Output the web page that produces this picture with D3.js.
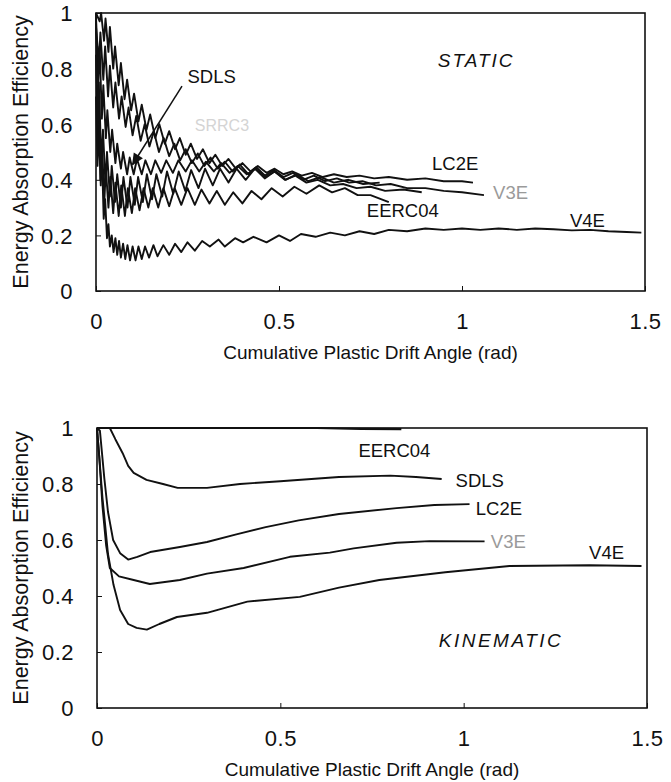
<!DOCTYPE html>
<html>
<head>
<meta charset="utf-8">
<script src="https://cdn.jsdelivr.net/npm/d3@7"></script>
<style>
  body { margin: 0; background: #fff; }
  svg text { font-family: "Liberation Sans", Arial, Helvetica, sans-serif; fill: #111; }
</style>
</head>
<body>
<script>
// axis ticks
var xTicks = [0, 0.5, 1, 1.5];
var yTicks = [0, 0.2, 0.4, 0.6, 0.8, 1];

// STATIC panel, [cumulative plastic drift angle, efficiency]
var staticLC2E = [[0.000,1.00],[0.010,0.97],[0.014,1.00],[0.022,0.90],[0.026,0.98],[0.034,0.86],[0.038,0.95],[0.047,0.80],[0.052,0.88],[0.062,0.74],[0.068,0.82],[0.078,0.69],[0.085,0.76],[0.096,0.65],[0.104,0.71],[0.116,0.61],[0.125,0.67],[0.138,0.58],[0.148,0.635],[0.162,0.55],[0.173,0.60],[0.188,0.53],[0.200,0.575],[0.216,0.51],[0.229,0.55],[0.245,0.49],[0.259,0.53],[0.276,0.475],[0.292,0.51],[0.310,0.46],[0.326,0.49],[0.345,0.45],[0.362,0.475],[0.382,0.44],[0.400,0.46],[0.422,0.43],[0.442,0.45],[0.466,0.425],[0.488,0.44],[0.512,0.42],[0.536,0.43],[0.562,0.415],[0.590,0.425],[0.620,0.41],[0.650,0.42],[0.685,0.41],[0.720,0.415],[0.760,0.405],[0.800,0.41],[0.850,0.40],[0.900,0.405],[0.950,0.395],[1.000,0.395],[1.030,0.39]];
var staticV3E = [[0.000,0.95],[0.008,0.82],[0.012,0.93],[0.020,0.76],[0.025,0.88],[0.033,0.70],[0.038,0.81],[0.047,0.66],[0.053,0.75],[0.063,0.62],[0.070,0.70],[0.081,0.59],[0.089,0.66],[0.100,0.56],[0.110,0.63],[0.122,0.54],[0.133,0.60],[0.146,0.52],[0.158,0.575],[0.172,0.50],[0.185,0.55],[0.200,0.485],[0.214,0.53],[0.230,0.47],[0.245,0.51],[0.262,0.46],[0.278,0.495],[0.296,0.45],[0.313,0.48],[0.333,0.44],[0.352,0.465],[0.373,0.43],[0.393,0.455],[0.416,0.42],[0.438,0.445],[0.462,0.415],[0.486,0.435],[0.512,0.41],[0.538,0.425],[0.566,0.40],[0.595,0.415],[0.626,0.395],[0.658,0.405],[0.692,0.39],[0.728,0.395],[0.765,0.38],[0.805,0.385],[0.850,0.37],[0.900,0.37],[0.950,0.36],[1.000,0.355],[1.060,0.345]];
var staticSDLS = [[0.000,0.98],[0.006,0.75],[0.010,0.88],[0.016,0.62],[0.020,0.74],[0.027,0.55],[0.031,0.65],[0.039,0.50],[0.044,0.58],[0.053,0.46],[0.058,0.53],[0.068,0.44],[0.074,0.50],[0.085,0.42],[0.092,0.48],[0.103,0.42],[0.112,0.475],[0.125,0.42],[0.135,0.47],[0.150,0.42],[0.162,0.47],[0.178,0.425],[0.192,0.47],[0.210,0.425],[0.225,0.47],[0.245,0.43],[0.262,0.47],[0.282,0.43],[0.300,0.465],[0.322,0.43],[0.342,0.46],[0.365,0.425],[0.387,0.45],[0.412,0.42],[0.436,0.44],[0.462,0.41],[0.488,0.43],[0.516,0.40],[0.545,0.415],[0.575,0.39],[0.606,0.40],[0.640,0.38],[0.675,0.385],[0.712,0.37],[0.750,0.375],[0.790,0.36],[0.840,0.365],[0.890,0.355]];
var staticMid = [[0.000,0.85],[0.005,0.55],[0.009,0.70],[0.015,0.45],[0.019,0.58],[0.026,0.38],[0.030,0.50],[0.038,0.34],[0.043,0.45],[0.052,0.32],[0.058,0.42],[0.068,0.30],[0.075,0.41],[0.086,0.30],[0.094,0.41],[0.106,0.31],[0.115,0.41],[0.128,0.32],[0.139,0.42],[0.153,0.33],[0.165,0.42],[0.181,0.34],[0.194,0.43],[0.211,0.35],[0.226,0.43],[0.244,0.36],[0.260,0.435],[0.280,0.37],[0.298,0.44],[0.319,0.38],[0.339,0.44],[0.362,0.39],[0.384,0.44],[0.409,0.40],[0.434,0.44],[0.461,0.405],[0.488,0.43],[0.518,0.40],[0.548,0.42],[0.580,0.395],[0.614,0.41],[0.650,0.39],[0.690,0.40],[0.730,0.385],[0.775,0.39]];
var staticEERC04 = [[0.000,0.70],[0.004,0.45],[0.008,0.58],[0.013,0.38],[0.017,0.50],[0.023,0.33],[0.027,0.44],[0.034,0.30],[0.039,0.41],[0.047,0.28],[0.053,0.39],[0.062,0.27],[0.069,0.38],[0.079,0.27],[0.087,0.37],[0.098,0.28],[0.107,0.37],[0.119,0.29],[0.130,0.37],[0.143,0.30],[0.155,0.37],[0.170,0.30],[0.184,0.37],[0.200,0.305],[0.215,0.37],[0.233,0.31],[0.250,0.37],[0.270,0.31],[0.288,0.365],[0.310,0.315],[0.330,0.36],[0.352,0.31],[0.375,0.355],[0.400,0.315],[0.425,0.36],[0.452,0.33],[0.480,0.37],[0.510,0.34],[0.542,0.375],[0.575,0.35],[0.610,0.38],[0.645,0.355],[0.680,0.37],[0.715,0.345],[0.750,0.345],[0.800,0.32]];
var staticV4E = [[0.000,1.00],[0.004,0.60],[0.008,0.75],[0.012,0.40],[0.016,0.50],[0.021,0.26],[0.025,0.33],[0.030,0.19],[0.034,0.24],[0.038,0.16],[0.043,0.20],[0.048,0.14],[0.053,0.19],[0.058,0.13],[0.063,0.18],[0.068,0.12],[0.074,0.17],[0.080,0.115],[0.086,0.165],[0.093,0.11],[0.100,0.16],[0.108,0.11],[0.116,0.16],[0.125,0.115],[0.134,0.16],[0.145,0.12],[0.157,0.165],[0.168,0.125],[0.184,0.165],[0.200,0.13],[0.216,0.17],[0.233,0.14],[0.250,0.175],[0.270,0.145],[0.290,0.18],[0.311,0.16],[0.335,0.185],[0.352,0.16],[0.380,0.19],[0.402,0.175],[0.430,0.195],[0.466,0.175],[0.500,0.20],[0.530,0.18],[0.560,0.205],[0.600,0.195],[0.640,0.21],[0.680,0.20],[0.720,0.215],[0.760,0.205],[0.800,0.22],[0.850,0.215],[0.900,0.225],[0.950,0.22],[1.000,0.225],[1.050,0.22],[1.100,0.225],[1.150,0.22],[1.200,0.225],[1.250,0.222],[1.300,0.218],[1.350,0.22],[1.400,0.215],[1.450,0.212],[1.490,0.21]];

// KINEMATIC panel
var kinEERC04 = [[0.000,1.00],[0.200,1.00],[0.400,1.00],[0.600,1.00],[0.720,0.997],[0.830,0.996]];
var kinSDLS = [[0.000,1.00],[0.035,1.00],[0.050,0.96],[0.070,0.91],[0.085,0.865],[0.100,0.84],[0.135,0.815],[0.180,0.80],[0.220,0.786],[0.300,0.786],[0.390,0.80],[0.500,0.81],[0.660,0.825],[0.800,0.83],[0.870,0.825],[0.940,0.818]];
var kinLC2E = [[0.000,1.00],[0.008,0.99],[0.020,0.82],[0.030,0.70],[0.044,0.60],[0.063,0.553],[0.085,0.53],[0.110,0.54],[0.145,0.557],[0.226,0.575],[0.300,0.593],[0.380,0.62],[0.460,0.646],[0.550,0.67],[0.660,0.693],[0.817,0.714],[0.920,0.725],[1.016,0.728]];
var kinV3E = [[0.000,1.00],[0.006,0.90],[0.015,0.72],[0.025,0.58],[0.035,0.50],[0.060,0.47],[0.100,0.457],[0.144,0.443],[0.226,0.457],[0.300,0.48],[0.400,0.50],[0.526,0.54],[0.635,0.555],[0.700,0.57],[0.817,0.59],[0.907,0.596],[1.057,0.595]];
var kinV4E = [[0.000,1.00],[0.006,0.90],[0.015,0.75],[0.030,0.55],[0.045,0.44],[0.063,0.35],[0.085,0.30],[0.108,0.286],[0.136,0.28],[0.170,0.30],[0.218,0.325],[0.300,0.34],[0.410,0.38],[0.553,0.397],[0.660,0.43],[0.770,0.457],[0.950,0.485],[1.125,0.507],[1.343,0.51],[1.485,0.507]];

var W = 671, H = 782;
var svg = d3.select("body").append("svg")
    .attr("width", W)
    .attr("height", H);

svg.append("defs").append("marker")
    .attr("id", "arrow")
    .attr("viewBox", "0 0 10 10")
    .attr("refX", 9).attr("refY", 5)
    .attr("markerWidth", 15).attr("markerHeight", 12)
    .attr("markerUnits", "userSpaceOnUse")
    .attr("orient", "auto")
    .append("path")
    .attr("d", "M0,0.5 L10,5 L0,9.5 Z")
    .attr("fill", "#111");

function panel(left, right, top, bottom, curves) {
    var x = d3.scaleLinear().domain([0, 1.5]).range([left, right]);
    var y = d3.scaleLinear().domain([0, 1]).range([bottom, top]);
    var g = svg.append("g");

    // frame
    g.append("rect")
        .attr("x", x(0)).attr("y", y(1))
        .attr("width", x(1.5) - x(0)).attr("height", y(0) - y(1))
        .attr("fill", "none").attr("stroke", "#111").attr("stroke-width", 1.6);

    var fmt = d3.format("~g");
    var xa = g.append("g")
        .attr("transform", "translate(0," + y(0) + ")")
        .call(d3.axisBottom(x).tickValues(xTicks).tickFormat(fmt)
            .tickSizeInner(-5).tickSizeOuter(0).tickPadding(22));
    var ya = g.append("g")
        .attr("transform", "translate(" + x(0) + ",0)")
        .call(d3.axisLeft(y).tickValues(yTicks).tickFormat(fmt)
            .tickSizeInner(-5).tickSizeOuter(0).tickPadding(23));
    [xa, ya].forEach(function (a) {
        a.select(".domain").remove();
        a.attr("font-size", 22).attr("font-family", null);
        a.selectAll("line").attr("stroke", "#111");
        a.selectAll("text").attr("fill", "#111").attr("letter-spacing", 0.5);
    });
    ya.selectAll("text").attr("dy", "0.36em");

    var line = d3.line().x(function (d) { return x(d[0]); }).y(function (d) { return y(d[1]); });
    g.selectAll("path.curve")
        .data(curves)
        .enter()
        .append("path")
        .attr("class", "curve")
        .attr("d", line)
        .attr("fill", "none")
        .attr("stroke", "#111")
        .attr("stroke-width", 1.9)
        .attr("stroke-linejoin", "round");

    // axis titles
    g.append("text")
        .attr("x", (x(0) + x(1.5)) / 2)
        .attr("y", y(0) + 68)
        .attr("text-anchor", "middle")
        .attr("font-size", 19)
        .text("Cumulative Plastic Drift Angle (rad)");
    g.append("text")
        .attr("transform", "translate(28," + (y(0) + y(1)) / 2 + ") rotate(-90)")
        .attr("text-anchor", "middle")
        .attr("font-size", 21.5)
        .text("Energy Absorption Efficiency");

    return { g: g, x: x, y: y };
}

function label(p, txt, vx, vy, opts) {
    opts = opts || {};
    return p.g.append("text")
        .attr("x", p.x(vx))
        .attr("y", p.y(vy))
        .attr("dy", "0.35em")
        .attr("font-size", opts.size || 18.5)
        .attr("font-style", opts.italic ? "italic" : null)
        .attr("letter-spacing", opts.spacing || null)
        .style("fill", opts.color || "#111")
        .text(txt);
}

// STATIC
var p1 = panel(96, 645, 13, 291, [staticLC2E, staticV3E, staticSDLS, staticMid, staticEERC04, staticV4E]);
label(p1, "STATIC", 0.934, 0.83, { italic: true, size: 19, spacing: 2 });
label(p1, "SDLS", 0.25, 0.773);
label(p1, "SRRC3", 0.27, 0.597, { color: "#d4d4d4", size: 16 });
label(p1, "LC2E", 0.918, 0.46);
label(p1, "V3E", 1.085, 0.353, { color: "#9a9a9a" });
label(p1, "EERC04", 0.74, 0.291);
label(p1, "V4E", 1.295, 0.252);
p1.g.append("line")
    .attr("x1", p1.x(0.235)).attr("y1", p1.y(0.737))
    .attr("x2", p1.x(0.100)).attr("y2", p1.y(0.455))
    .attr("stroke", "#111").attr("stroke-width", 1.5)
    .attr("marker-end", "url(#arrow)");

// KINEMATIC
var p2 = panel(97, 647, 428, 708, [kinSDLS, kinLC2E, kinV3E, kinV4E]);
p2.g.append("path")
    .datum(kinEERC04)
    .attr("d", d3.line().x(function (d) { return p2.x(d[0]); }).y(function (d) { return p2.y(d[1]); }))
    .attr("fill", "none").attr("stroke", "#111").attr("stroke-width", 2.2);
label(p2, "EERC04", 0.713, 0.918);
label(p2, "SDLS", 0.978, 0.814);
label(p2, "LC2E", 1.033, 0.714);
label(p2, "V3E", 1.074, 0.596, { color: "#9a9a9a" });
label(p2, "V4E", 1.342, 0.557);
label(p2, "KINEMATIC", 0.932, 0.243, { italic: true, size: 19, spacing: 2.5 });
</script>
</body>
</html>
